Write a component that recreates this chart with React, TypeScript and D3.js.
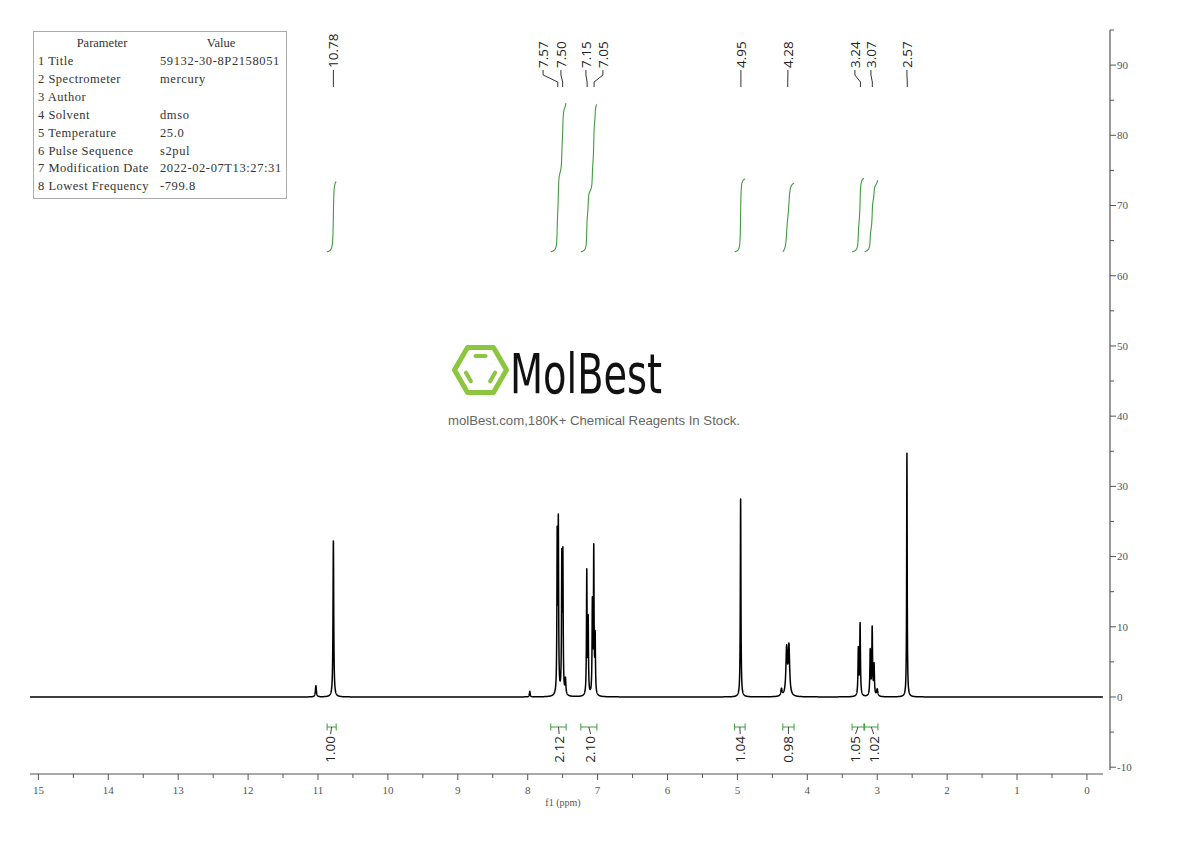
import React from 'react';
import * as d3 from 'd3';

// ---- Spectrum peaks (ppm, height in axis units, half width at half max in ppm)
const peakPpm = [11.03, 10.78, 7.97, 7.578, 7.562, 7.512, 7.497, 7.46, 7.155, 7.135, 7.075, 7.055, 7.035, 4.954, 4.37, 4.296, 4.263, 3.27, 3.245, 3.10, 3.072, 3.045, 3.0, 2.575];
const peakHeight = [1.6, 22.2, 0.8, 22.0, 23.8, 18.8, 19.2, 2.2, 17.5, 10.5, 12.8, 20.5, 8.0, 28.2, 1.0, 6.6, 6.9, 6.6, 10.2, 6.4, 9.6, 4.3, 1.0, 34.7];
const peakWidth = [0.008, 0.006, 0.006, 0.005, 0.005, 0.005, 0.005, 0.007, 0.005, 0.005, 0.005, 0.005, 0.005, 0.005, 0.01, 0.012, 0.012, 0.006, 0.006, 0.006, 0.006, 0.006, 0.01, 0.0045];

// ---- Peak labels on top
const shiftLabels = ['10.78', '7.57', '7.50', '7.15', '7.05', '4.95', '4.28', '3.24', '3.07', '2.57'];
const shiftPpm = [10.78, 7.57, 7.50, 7.15, 7.05, 4.95, 4.28, 3.24, 3.07, 2.57];
const shiftLabelPpm = [10.78, 7.78, 7.525, 7.167, 6.924, 4.95, 4.278, 3.319, 3.09, 2.575];

// ---- Integrals
const integralFrom = [10.87, 7.67, 7.24, 5.04, 4.35, 3.36, 3.18];
const integralTo = [10.74, 7.45, 7.01, 4.89, 4.19, 3.19, 2.99];
const integralValues = [1.0, 2.12, 2.10, 1.04, 0.98, 1.05, 1.02];
const integralLabelPpm = [10.82, 7.55, 7.10, 4.96, 4.27, 3.31, 3.05];
const integralBase = 63.4;
const integralUnit = 10.0;

// ---- Axes
const xMajorTicks = d3.range(0, 16, 1);
const xMinorTicks = d3.range(0.5, 15, 1);
const yMajorTicks = d3.range(-10, 91, 10);
const yMinorTicks = d3.range(-5, 96, 10);

// ---- Parameter table
const paramNames = ['1 Title', '2 Spectrometer', '3 Author', '4 Solvent', '5 Temperature', '6 Pulse Sequence', '7 Modification Date', '8 Lowest Frequency'];
const paramValues = ['59132-30-8P2158051', 'mercury', '', 'dmso', '25.0', 's2pul', '2022-02-07T13:27:31', '-799.8'];

const spec = (p: number) => {
  let s = 0;
  for (let i = 0; i < peakPpm.length; i++) {
    const d = (p - peakPpm[i]) / peakWidth[i];
    s += peakHeight[i] / (1 + d * d);
  }
  return s;
};

export default function App() {
  const x = d3.scaleLinear().domain([15.12, -0.23]).range([30, 1103]);
  const y = d3.scaleLinear().domain([-10.4, 95]).range([770, 30]);

  const samples = d3.range(15.12, -0.23, -0.001).concat(peakPpm).sort((a, b) => b - a);
  const pts: [number, number][] = samples.map((p) => [p, spec(p)]);
  const line = d3.line<[number, number]>().x((d) => x(d[0])).y((d) => y(d[1]));

  const integralPaths = integralFrom.map((from, i) => {
    const to = integralTo[i];
    const ps = d3.range(from, to, -0.0005);
    let acc = 0;
    const cum = ps.map((p) => { acc += spec(p); return acc; });
    const total = acc;
    const data: [number, number][] = ps.map((p, j) => [p, integralBase + (cum[j] / total) * integralValues[i] * integralUnit]);
    return line(data) as string;
  });

  const green = '#3f9c3f';
  const axisColor = '#555';
  const serif = '"Liberation Serif", "DejaVu Serif", serif';
  const sans = '"Open Sans", "Noto Sans", sans-serif';

  // hexagon logo
  const hx = 480.5, hy = 370, hr = 26;
  const hexPts = d3.range(6).map((k) => [hx + hr * Math.cos((k * Math.PI) / 3), hy + hr * Math.sin((k * Math.PI) / 3)]);
  const innerEdges = [[4, 5], [2, 3], [0, 1]];
  const inner = innerEdges.map(([a, b]) => {
    const s = 0.62, t = 0.62;
    const ax = hx + (hexPts[a][0] - hx) * s, ay = hy + (hexPts[a][1] - hy) * s;
    const bx = hx + (hexPts[b][0] - hx) * s, by = hy + (hexPts[b][1] - hy) * s;
    const mx = (ax + bx) / 2, my = (ay + by) / 2;
    return [mx + (ax - mx) * t, my + (ay - my) * t, mx + (bx - mx) * t, my + (by - my) * t];
  });

  return (
    <svg width={1190} height={841} style={{ position: 'absolute', left: 0, top: 0, background: '#fff' }}>
      <rect x={0} y={0} width={1190} height={841} fill="#fff" />

      {/* Parameter table */}
      <rect x={33.5} y={31.5} width={253} height={167} fill="#fff" stroke="#aaa" strokeWidth={1} />
      <text x={102} y={47} textAnchor="middle" fontFamily={serif} fontSize={12.5} fill="#333">Parameter</text>
      <text x={221} y={47} textAnchor="middle" fontFamily={serif} fontSize={12.5} fill="#333">Value</text>
      {paramNames.map((n, i) => (
        <g key={n}>
          <text x={38} y={65 + i * 17.9} fontFamily={serif} fontSize={12.5} fill="#333" letterSpacing={0.5}>{n}</text>
          <text x={160} y={65 + i * 17.9} fontFamily={serif} fontSize={12.5} fill="#333" letterSpacing={0.6}>{paramValues[i]}</text>
        </g>
      ))}

      {/* Watermark */}
      <polygon points={hexPts.map((p) => p.join(',')).join(' ')} fill="none" stroke="#8cc63f" strokeWidth={5} strokeLinejoin="round" />
      {inner.map((s, i) => (
        <line key={i} x1={s[0]} y1={s[1]} x2={s[2]} y2={s[3]} stroke="#8cc63f" strokeWidth={4} strokeLinecap="round" />
      ))}
      <text x={510} y={393} fontFamily='"DejaVu Sans Condensed", "DejaVu Sans", sans-serif' fontSize={56} fill="#111" textLength={152} lengthAdjust="spacingAndGlyphs">MolBest</text>
      <text x={594} y={425} textAnchor="middle" fontFamily='"Liberation Sans", Arial, sans-serif' fontSize={13} fill="#666" textLength={292} lengthAdjust="spacingAndGlyphs">molBest.com,180K+ Chemical Reagents In Stock.</text>

      {/* Integral curves */}
      {integralPaths.map((d, i) => (
        <path key={i} d={d} fill="none" stroke={green} strokeWidth={1.1} />
      ))}

      {/* Spectrum */}
      <path d={line(pts) as string} fill="none" stroke="#000" strokeWidth={1.5} strokeLinejoin="round" />

      {/* Peak labels */}
      {shiftLabels.map((lab, i) => {
        const xp = x(shiftPpm[i]);
        const xl = x(shiftLabelPpm[i]);
        return (
          <g key={lab}>
            <path d={`M${xp},87 V82 L${xl},75 V70`} fill="none" stroke="#333" strokeWidth={1} />
            <text transform={`translate(${xl},68) rotate(-90)`} dy="0.36em" fontFamily={sans} fontSize={13.5} fill="#222">{lab}</text>
          </g>
        );
      })}

      {/* Integral brackets and labels */}
      {integralValues.map((v, i) => {
        const xa = x(integralFrom[i]);
        const xb = x(integralTo[i]);
        const xc = (xa + xb) / 2;
        const xl = x(integralLabelPpm[i]);
        return (
          <g key={i}>
            <path d={`M${xa},727 H${xb} M${xa},723.5 V730.5 M${xb},723.5 V730.5`} fill="none" stroke={green} strokeWidth={1} />
            <path d={`M${xc},727 L${xl},734`} fill="none" stroke="#444" strokeWidth={1} />
            <text transform={`translate(${xl},736) rotate(-90)`} dy="0.36em" textAnchor="end" fontFamily={sans} fontSize={13.5} fill="#222">{v.toFixed(2)}</text>
          </g>
        );
      })}

      {/* Bottom axis */}
      <line x1={30} x2={1103} y1={774} y2={774} stroke={axisColor} strokeWidth={1.2} />
      {xMajorTicks.map((t) => (
        <g key={t}>
          <line x1={x(t)} x2={x(t)} y1={774} y2={780} stroke={axisColor} strokeWidth={1} />
          <text x={x(t)} y={794} textAnchor="middle" fontFamily={serif} fontSize={11} fill="#555">{t}</text>
        </g>
      ))}
      {xMinorTicks.map((t) => (
        <line key={t} x1={x(t)} x2={x(t)} y1={774} y2={778} stroke={axisColor} strokeWidth={1} />
      ))}
      <text x={563} y={806} textAnchor="middle" fontFamily={serif} fontSize={10} fill="#555">f1 (ppm)</text>

      {/* Right axis */}
      <line x1={1110} x2={1110} y1={y(95)} y2={y(-10.4)} stroke={axisColor} strokeWidth={1.2} />
      {yMajorTicks.map((t) => (
        <g key={t}>
          <line x1={1110} x2={1116} y1={y(t)} y2={y(t)} stroke={axisColor} strokeWidth={1} />
          <text x={1117} y={y(t)} dy="0.35em" fontFamily={serif} fontSize={11} fill="#555">{t}</text>
        </g>
      ))}
      {yMinorTicks.map((t) => (
        <line key={t} x1={1110} x2={1114} y1={y(t)} y2={y(t)} stroke={axisColor} strokeWidth={1} />
      ))}
    </svg>
  );
}
